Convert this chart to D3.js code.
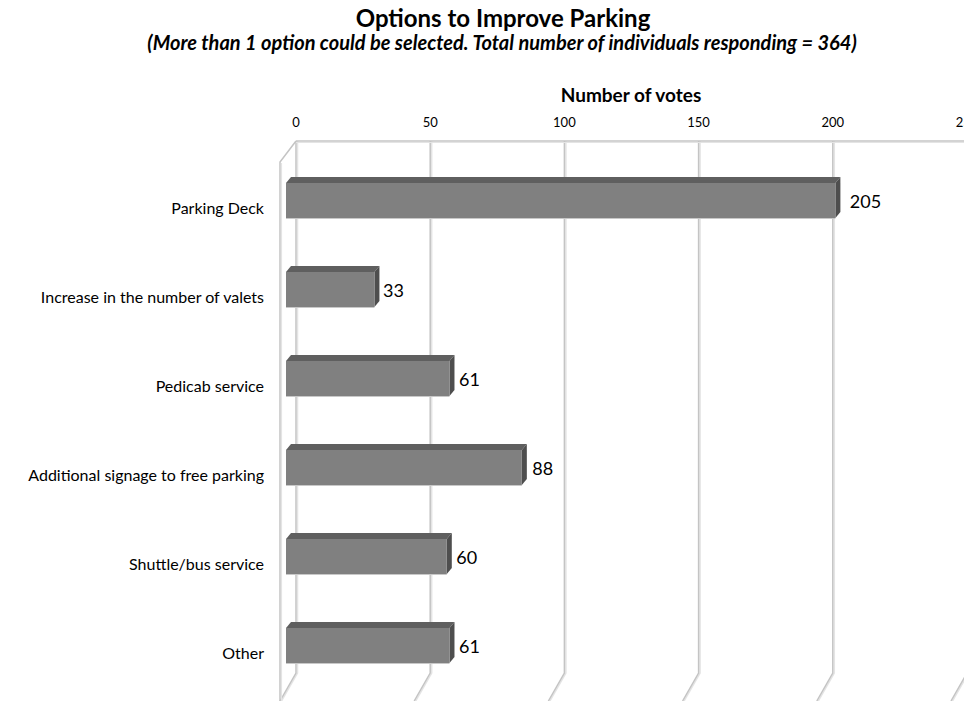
<!DOCTYPE html>
<html>
<head>
<meta charset="utf-8">
<script src="https://cdn.jsdelivr.net/npm/d3@7"></script>
<style>
  html, body { margin: 0; padding: 0; background: #fff; }
  svg { display: block; }
</style>
</head>
<body>
<svg id="chart" width="964" height="701"></svg>
<script>
const categories = ["Parking Deck", "Increase in the number of valets", "Pedicab service",
  "Additional signage to free parking", "Shuttle/bus service", "Other "];
const values = [205, 33, 61, 88, 60, 61];
const tickValues = [0, 50, 100, 150, 200, 250];
const titleText = "Options to Improve Parking";
const subtitleText = "(More than 1 option could be selected. Total number of individuals responding = 364)";
const axisTitle = "Number of votes";

const svg = d3.select("#chart");
const font = "Lato, 'Open Sans', sans-serif";

// back wall scale, front (bar) scale, and label scale (3D perspective)
const xBack = d3.scaleLinear().domain([0, 250]).range([296, 967]);
const xFront = d3.scaleLinear().domain([0, 250]).range([286, 956]);
const xLabel = d3.scaleLinear().domain([0, 250]).range([293.5, 972]);
const y = d3.scalePoint().domain(categories).range([183, 628]);

const wallTop = 141, wallBottom = 673, floorFront = 697;
const depthX = -16;
const barH = 35, bdx = 5, bdy = -6;

// Titles
svg.append("text").attr("x", 503).attr("y", 27).attr("text-anchor", "middle")
  .attr("font-family", font).attr("font-weight", "bold").attr("font-size", 24)
  .attr("fill", "#000").text(titleText);
svg.append("text").attr("x", 502).attr("y", 50).attr("text-anchor", "middle")
  .attr("font-family", font).attr("font-weight", "bold").attr("font-style", "italic")
  .attr("font-size", 20).attr("fill", "#000").text(subtitleText);
svg.append("text").attr("x", 631).attr("y", 102).attr("text-anchor", "middle")
  .attr("font-family", font).attr("font-weight", "bold").attr("font-size", 19)
  .attr("fill", "#000").text(axisTitle);

// gridlines (back wall + floor)
const grid = svg.append("g");
function gridPath(x) {
  return `M${x},${wallTop} L${x},${wallBottom} L${x + depthX},${floorFront + 4}`;
}
tickValues.forEach(t => {
  const x = xBack(t);
  grid.append("path").attr("d", gridPath(x + 1.5)).attr("fill", "none")
    .attr("stroke", "#e4e4e4").attr("stroke-width", 1.5);
  grid.append("path").attr("d", gridPath(x)).attr("fill", "none")
    .attr("stroke", "#c4c4c4").attr("stroke-width", 1.5);
});
// top edge of back wall
grid.append("line").attr("x1", xBack(0)).attr("x2", 964).attr("y1", wallTop).attr("y2", wallTop)
  .attr("stroke", "#c4c4c4").attr("stroke-width", 1.5);
grid.append("line").attr("x1", xBack(0)).attr("x2", 964).attr("y1", wallTop + 1.5).attr("y2", wallTop + 1.5)
  .attr("stroke", "#e4e4e4").attr("stroke-width", 1.2);
// left wall front edge
grid.append("path").attr("d", `M${xBack(0)},${wallTop} L${xBack(0) + depthX},${wallTop + 21} L${xBack(0) + depthX},${floorFront + 4}`)
  .attr("fill", "none").attr("stroke", "#c4c4c4").attr("stroke-width", 1.5);
grid.append("path").attr("d", `M${xBack(0) + depthX + 1.5},${wallTop + 22} L${xBack(0) + depthX + 1.5},${floorFront + 4}`)
  .attr("fill", "none").attr("stroke", "#e4e4e4").attr("stroke-width", 1.2);

// tick labels
svg.append("g").selectAll("text").data(tickValues).join("text")
  .attr("x", d => xBack(d)).attr("y", 127).attr("text-anchor", "middle")
  .attr("font-family", font).attr("font-size", 13).attr("fill", "#000")
  .text(d => d);

// bars
const bars = svg.append("g").selectAll("g").data(categories).join("g");
bars.each(function(c, i) {
  const g = d3.select(this);
  const x0 = xFront(0), x1 = xFront(values[i]), yt = y(c);
  // top face
  g.append("path")
    .attr("d", `M${x0},${yt} L${x0 + bdx},${yt + bdy} L${x1 + bdx},${yt + bdy} L${x1},${yt} Z`)
    .attr("fill", "#5f5f5f");
  // side face
  g.append("path")
    .attr("d", `M${x1},${yt} L${x1 + bdx},${yt + bdy} L${x1 + bdx},${yt + bdy + barH} L${x1},${yt + barH} Z`)
    .attr("fill", "#4e4e4e");
  // front face
  g.append("rect").attr("x", x0).attr("y", yt).attr("width", x1 - x0).attr("height", barH)
    .attr("fill", "#808080");
  g.append("line").attr("x1", x0).attr("x2", x1).attr("y1", yt + barH + 0.5).attr("y2", yt + barH + 0.5)
    .attr("stroke", "#c8c8c8").attr("stroke-width", 1);
});

// value labels
svg.append("g").selectAll("text").data(categories).join("text")
  .attr("x", (c, i) => xLabel(values[i]))
  .attr("y", c => y(c) + 25)
  .attr("font-family", font).attr("font-size", 18).attr("fill", "#000")
  .text((c, i) => values[i]);

// category labels
svg.append("g").selectAll("text").data(categories).join("text")
  .attr("x", 264).attr("y", c => y(c) + 31)
  .attr("text-anchor", "end")
  .attr("font-family", font).attr("font-size", 16).attr("fill", "#000")
  .text(c => c);
</script>
</body>
</html>
